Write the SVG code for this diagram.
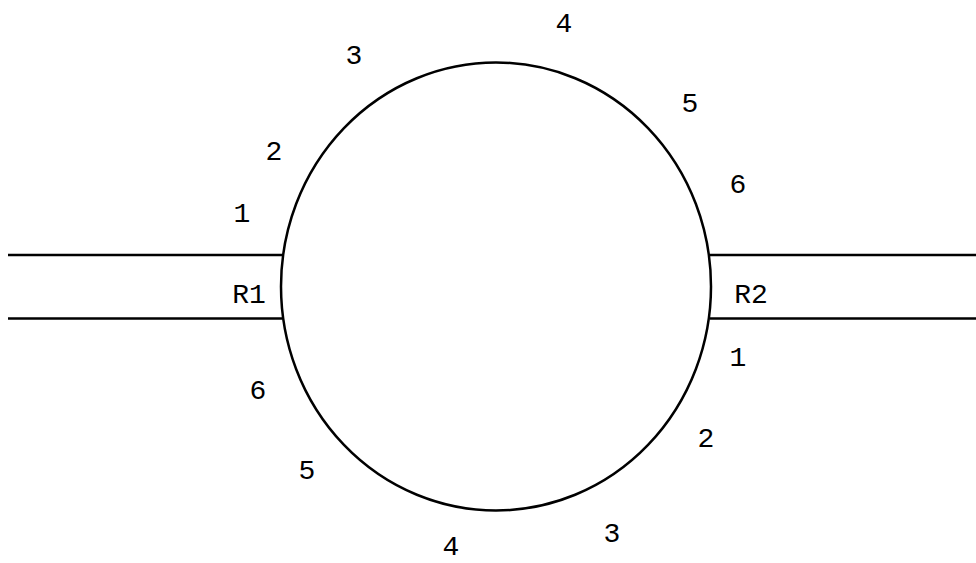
<svg xmlns="http://www.w3.org/2000/svg" width="976" height="563" viewBox="0 0 976 563">
<style>
.l{stroke:#000;stroke-width:2.5;fill:none}
text{font-family:"Liberation Mono","Courier New",monospace;font-size:28px;fill:#000;text-anchor:middle}
</style>
<rect width="976" height="563" fill="#fff"/>
<g id="ring"><ellipse class="l" cx="496" cy="286.5" rx="215" ry="224"/></g>
<g id="connectors">
<line class="l" x1="8" y1="255" x2="282" y2="255"/>
<line class="l" x1="8" y1="318.5" x2="282" y2="318.5"/>
<line class="l" x1="710" y1="255" x2="976" y2="255"/>
<line class="l" x1="710" y1="318.5" x2="976" y2="318.5"/>
</g>
<g id="labels">
<text x="249" y="303">R1</text>
<text x="751" y="303">R2</text>
<text x="564" y="32">4</text>
<text x="354" y="64">3</text>
<text x="690" y="112">5</text>
<text x="274" y="160">2</text>
<text x="738" y="193">6</text>
<text x="242" y="222">1</text>
<text x="738" y="366">1</text>
<text x="258" y="399">6</text>
<text x="706" y="447">2</text>
<text x="307" y="479">5</text>
<text x="612" y="542">3</text>
<text x="451" y="555">4</text>
</g>
</svg>
